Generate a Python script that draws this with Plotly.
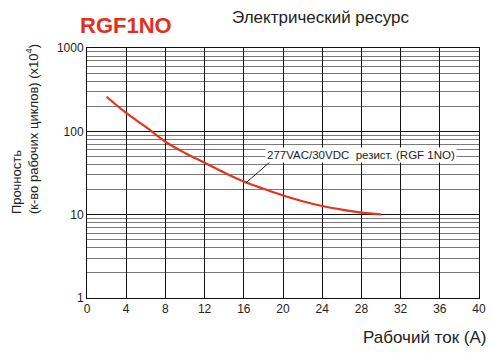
import plotly.graph_objects as go

# Data
current_a = [2, 4, 6, 8, 10, 12, 14, 16, 18, 20, 22, 24, 26, 28, 30]
cycles_x1e4 = [260, 166, 113, 75, 55, 42, 32, 25, 20.5, 17, 14.5, 12.7, 11.5, 10.6, 10.1]

x_ticks = [0, 4, 8, 12, 16, 20, 24, 28, 32, 36, 40]
y_ticks = [1, 10, 100, 1000]
y_minor = [m * 10 ** d for d in range(3) for m in range(2, 10)]

series_label = "277VAC/30VDC  резист. (RGF 1NO)"
title_main = "RGF1NO"
title_sub = "Электрический ресурс"
x_title = "Рабочий ток (A)"
y_title = "Прочность<br>(к-во рабочих циклов) (x10<sup>4</sup>)"

FONT = "Liberation Sans, Arial, sans-serif"
NARROW = "Liberation Sans Narrow, Arial Narrow, Liberation Sans, sans-serif"

fig = go.Figure()
fig.add_trace(go.Scatter(
    x=current_a, y=cycles_x1e4, mode="lines",
    line=dict(color="#e8341c", width=2.2, shape="spline"),
    showlegend=False, hoverinfo="skip",
))

fig.update_layout(
    width=491, height=353,
    margin=dict(l=87, r=12, t=48, b=55),
    paper_bgcolor="white", plot_bgcolor="white",
    font=dict(family=FONT, size=12, color="#222"),
    xaxis=dict(
        range=[0, 40], tickvals=x_ticks, ticks="", showgrid=True,
        gridcolor="#111", gridwidth=1, zeroline=False,
        showline=True, linecolor="#111", linewidth=1, mirror=True,
        tickfont=dict(size=12, color="#222"), automargin=False,
    ),
    yaxis=dict(
        type="log", range=[0, 3], tickvals=y_ticks, ticktext=[str(v) for v in y_ticks],
        ticks="", showgrid=True, gridcolor="#111", gridwidth=1, zeroline=False,
        showline=True, linecolor="#111", linewidth=1, mirror=True,
        tickfont=dict(size=12, color="#222"), automargin=False,
        minor=dict(tickvals=y_minor, showgrid=True, gridcolor="#7a7a7a", gridwidth=1, ticks=""),
    ),
)

# Leader line for the series label
fig.add_annotation(
    x=16.2, y=1.38, ax=18.9, ay=1.656, xref="x", yref="y", axref="x", ayref="y",
    text="", showarrow=True, arrowhead=0, arrowwidth=1, arrowcolor="#222",
)
fig.add_annotation(
    x=28.0, y=1.716, xref="x", yref="y", text=series_label, showarrow=False,
    xanchor="center", yanchor="middle",
    bgcolor="white", font=dict(size=11.5, color="#222"), borderpad=1,
)

# Titles (positions given in pixels, converted below)
fig.add_annotation(
    x=126, y=26, xref="paper", yref="paper", text="<b>" + title_main + "</b>", showarrow=False,
    xanchor="center", yanchor="middle", font=dict(size=22, color="#e0301e"),
)
fig.add_annotation(
    x=321, y=18, xref="paper", yref="paper", text=title_sub, showarrow=False,
    xanchor="center", yanchor="middle", font=dict(size=17, color="#222"),
)
fig.add_annotation(
    x=489, y=337, xref="paper", yref="paper", text=x_title, showarrow=False,
    xanchor="right", yanchor="middle", font=dict(size=17, color="#222"),
)
fig.add_annotation(
    x=25, y=129, xref="paper", yref="paper", text=y_title, showarrow=False, textangle=-90,
    xanchor="center", yanchor="middle", align="left",
    font=dict(size=13, color="#222", family=NARROW),
)

W, H = 491, 353
L, R, T, B = 87, 12, 48, 55
pw, ph = W - L - R, H - T - B
for ann in fig.layout.annotations:
    if ann.xref == "paper":
        ann.x = (ann.x - L) / pw
        ann.y = (H - B - ann.y) / ph

fig.write_html("out.html", config={"displayModeBar": False},
               post_script="document.body.style.margin='0';")
